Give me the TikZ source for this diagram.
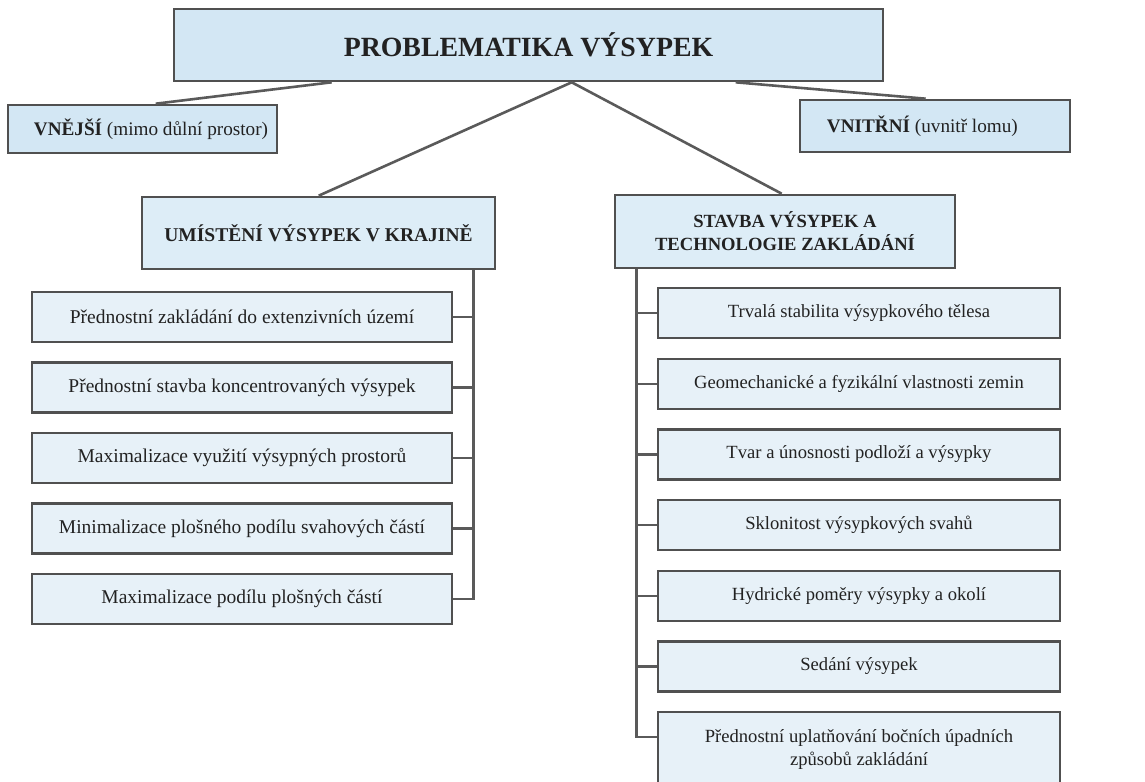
\documentclass[tikz,border=0pt]{standalone}
\usepackage{fontspec}
\setmainfont{Liberation Serif}
\definecolor{headfill}{HTML}{D3E7F4}
\definecolor{subfill}{HTML}{DDEDF7}
\definecolor{itemfill}{HTML}{E7F1F8}
\definecolor{boxline}{HTML}{505050}
\definecolor{linkcol}{HTML}{5A5A5A}
\definecolor{ink}{HTML}{222222}
\begin{document}
\begin{tikzpicture}[x=1bp,y=-1bp,
  box/.style={draw=boxline, line width=2.6bp, inner sep=0pt, align=center,
    text=ink, font=\fontsize{19.5bp}{23bp}\selectfont},
  head/.style={box, fill=headfill},
  sub/.style={box, fill=subfill, font=\bfseries\fontsize{19.5bp}{23bp}\selectfont},
  item/.style={box, fill=itemfill, minimum width=420bp, minimum height=50bp},
  ritem/.style={item, minimum width=402bp, font=\fontsize{18.6bp}{23bp}\selectfont},
  caption/.style={inner sep=0pt, text=ink, font=\fontsize{19.2bp}{23bp}\selectfont},
  link/.style={draw=linkcol, line width=2.6bp}]
\useasboundingbox (0,0) rectangle (1145,782);
\clip (0,0) rectangle (1145,782);

% top level
\node[head, minimum width=709bp, minimum height=72bp,
      font=\bfseries\fontsize{27.8bp}{30bp}\selectfont] (top) at (528.5,45) {PROBLEMATIKA VÝSYPEK};
\node[head, minimum width=269bp, minimum height=48bp] (ext) at (142.5,129) {};
\node[caption, anchor=west] (ext-t) at ([xshift=27bp]ext.west)
  {\textbf{VNĚJŠÍ} (mimo důlní prostor)};
\node[head, minimum width=270bp, minimum height=52bp] (int) at (935,126) {};
\node[caption, anchor=west] (int-t) at ([xshift=28bp]int.west)
  {\textbf{VNITŘNÍ} (uvnitř lomu)};

% second level
\node[sub, minimum width=353bp, minimum height=72bp] (place) at (318.5,233)
  {UMÍSTĚNÍ VÝSYPEK V KRAJINĚ};
\node[sub, minimum width=340bp, minimum height=73bp,
      font=\bfseries\fontsize{18.6bp}{23bp}\selectfont] (build) at (785,231.5)
  {STAVBA VÝSYPEK A\\TECHNOLOGIE ZAKLÁDÁNÍ};

% left column
\node[item] (l1) at (242,317)   {Přednostní zakládání do extenzivních území};
\node[item] (l2) at (242,387.5) {Přednostní stavba koncentrovaných výsypek};
\node[item] (l3) at (242,458)   {Maximalizace využití výsypných prostorů};
\node[item] (l4) at (242,528.5) {Minimalizace plošného podílu svahových částí};
\node[item] (l5) at (242,599)   {Maximalizace podílu plošných částí};

% right column
\node[ritem] (r1) at (859,313)   {Trvalá stabilita výsypkového tělesa};
\node[ritem] (r2) at (859,384)   {Geomechanické a fyzikální vlastnosti zemin};
\node[ritem] (r3) at (859,454.5) {Tvar a únosnosti podloží a výsypky};
\node[ritem] (r4) at (859,525)   {Sklonitost výsypkových svahů};
\node[ritem] (r5) at (859,596)   {Hydrické poměry výsypky a okolí};
\node[ritem] (r6) at (859,666.5) {Sedání výsypek};
\node[ritem, minimum height=76bp] (r7) at (859,750)
  {Přednostní uplatňování bočních úpadních\\způsobů zakládání};

% links from the title box
\draw[link] ([xshift=159bp]top.south west) -- ([xshift=149bp]ext.north west);
\draw[link] ([xshift=563bp]top.south west) -- ([xshift=127bp]int.north west);
\draw[link] ([xshift=399bp]top.south west) -- ([xshift=178bp]place.north west);
\draw[link] ([xshift=399bp]top.south west) -- ([xshift=168bp]build.north west);

% left bus
\coordinate (lbus) at ([xshift=-23bp]place.south east);
\draw[link] (lbus) |- (l5.east);
\foreach \i in {1,...,4} \draw[link] (l\i.east) -- (l\i.east -| lbus);

% right bus
\coordinate (rbus) at ([xshift=23bp]build.south west);
\draw[link] (rbus) |- ([yshift=13bp]r7.west);
\foreach \i in {1,...,6} \draw[link] (r\i.west) -- (r\i.west -| rbus);
\end{tikzpicture}
\end{document}
